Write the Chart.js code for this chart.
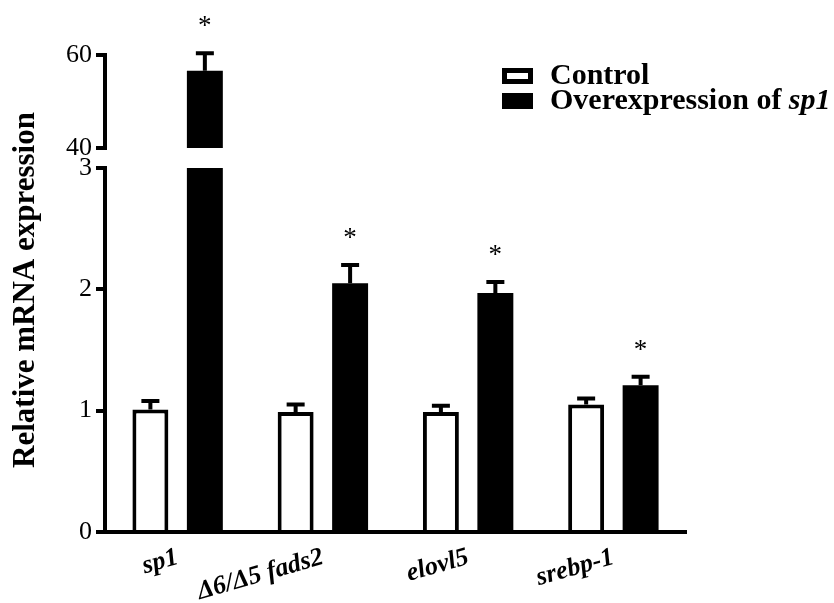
<!DOCTYPE html>
<html>
<head>
<meta charset="utf-8">
<script src="https://cdn.jsdelivr.net/npm/chart.js@4/dist/chart.umd.min.js"></script>
<style>
body { margin: 0; background: #fff; }
#wrap { position: relative; width: 834px; height: 603px; }
canvas { position: absolute; left: 0; top: 0; }
</style>
</head>
<body>
<div id="wrap">
  <canvas id="lowerChart" width="834" height="603"></canvas>
  <canvas id="upperChart" width="834" height="603"></canvas>
</div>
<script>
const genes = ['sp1', 'Δ6/Δ5 fads2', 'elovl5', 'srebp-1']
const seriesNames = ['Control', 'Overexpression of sp1']
const controlMean = [1.01, 0.99, 0.99, 1.05]
const controlErr = [0.07, 0.06, 0.05, 0.05]
const overMean = [56.6, 2.05, 1.97, 1.21]
const overErr = [3.8, 0.15, 0.09, 0.07]
const significant = [true, true, true, true]
const lowerTicks = [0, 1, 2, 3]
const upperTicks = [40, 60]
const yTitle = 'Relative mRNA expression'

const serif = 'Liberation Serif'
Chart.defaults.font.family = serif
Chart.defaults.color = '#000'
const errs = [controlErr, overErr]

// error bars + asterisks, drawn on top of the bars
const errorBars = {
  id: 'errorBars',
  afterDatasetsDraw(chart) {
    const ctx = chart.ctx
    const y = chart.scales.y
    ctx.save()
    ctx.strokeStyle = '#000'
    ctx.fillStyle = '#000'
    ctx.lineWidth = 4
    chart.data.datasets.forEach((ds, i) => {
      chart.getDatasetMeta(i).data.forEach((bar, j) => {
        const v = ds.data[j]
        if (v == null || v > y.max) return
        const top = y.getPixelForValue(v + errs[i][j])
        ctx.beginPath()
        ctx.moveTo(bar.x, y.getPixelForValue(v))
        ctx.lineTo(bar.x, top)
        ctx.moveTo(bar.x - 9, top)
        ctx.lineTo(bar.x + 9, top)
        ctx.stroke()
        if (i === 1 && significant[j]) {
          ctx.font = '27px ' + serif
          ctx.textAlign = 'center'
          ctx.textBaseline = 'middle'
          ctx.fillText('*', bar.x, top - 26)
        }
      })
    })
    ctx.restore()
  }
}

// axis title over both segments + legend
const extras = {
  id: 'extras',
  afterDraw(chart) {
    const ctx = chart.ctx
    ctx.save()
    ctx.fillStyle = '#000'
    ctx.translate(26, 290)
    ctx.rotate(-Math.PI / 2)
    ctx.font = 'bold 31px ' + serif
    ctx.textAlign = 'center'
    ctx.textBaseline = 'middle'
    ctx.fillText(yTitle, 0, 0)
    ctx.restore()

    ctx.save()
    ctx.textBaseline = 'middle'
    chart.data.datasets.forEach((ds, i) => {
      const cy = 76 + i * 25
      ctx.fillStyle = ds.backgroundColor
      ctx.fillRect(502, cy - 8, 31, 16)
      ctx.strokeStyle = '#000'
      ctx.lineWidth = 5
      ctx.strokeRect(504.5, cy - 5.5, 26, 11)
      let x = 550
      ds.label.split(' ').forEach((w, k, arr) => {
        const it = genes.includes(w)
        ctx.font = (it ? 'italic ' : '') + 'bold 30px ' + serif
        ctx.fillStyle = '#000'
        const txt = k < arr.length - 1 ? w + ' ' : w
        ctx.fillText(txt, x, cy)
        x += ctx.measureText(txt).width
      })
    })
    ctx.restore()
  }
}

function yAxis(min, max, tickVals) {
  return {
    min: min, max: max,
    afterFit: s => { s.width = 105 },
    afterBuildTicks: s => { s.ticks = tickVals.map(v => ({ value: v })) },
    grid: { drawOnChartArea: false, color: '#000', lineWidth: 4, tickLength: 9 },
    border: { color: '#000', width: 4 },
    ticks: { font: { size: 26 }, padding: 4, color: '#000' }
  }
}

const barOpts = { categoryPercentage: 0.75, barPercentage: 0.66 }

new Chart(document.getElementById('lowerChart'), {
  type: 'bar',
  data: {
    labels: genes,
    datasets: [
      { label: seriesNames[0], data: controlMean, backgroundColor: '#fff', borderColor: '#000', borderWidth: 4, clip: 0, ...barOpts },
      { label: seriesNames[1], data: overMean, backgroundColor: '#000', borderColor: '#000', borderWidth: 0, clip: 0, ...barOpts }
    ]
  },
  options: {
    responsive: false,
    animation: false,
    layout: { padding: { top: 168, right: 148, left: 0, bottom: 0 } },
    plugins: { legend: { display: false }, tooltip: { enabled: false } },
    scales: {
      x: {
        afterFit: s => { s.height = 71 },
        grid: { display: false, drawTicks: false },
        border: { color: '#000', width: 4 },
        ticks: { minRotation: 16, maxRotation: 16, padding: 10, font: { size: 26, style: 'italic', weight: 'bold' }, color: '#000' }
      },
      y: yAxis(0, 3, lowerTicks)
    }
  },
  plugins: [errorBars, extras]
})

new Chart(document.getElementById('upperChart'), {
  type: 'bar',
  data: {
    labels: genes,
    datasets: [
      { label: seriesNames[0], data: controlMean.map(v => v >= 40 ? v : null), backgroundColor: '#fff', borderColor: '#000', borderWidth: 4, clip: 0, ...barOpts },
      { label: seriesNames[1], data: overMean.map(v => v >= 40 ? v : null), backgroundColor: '#000', borderWidth: 0, clip: 0, ...barOpts }
    ]
  },
  options: {
    responsive: false,
    animation: false,
    layout: { padding: { top: 55, right: 148, left: 0, bottom: 455 } },
    plugins: { legend: { display: false }, tooltip: { enabled: false } },
    scales: {
      x: { display: false },
      y: yAxis(40, 60, upperTicks)
    }
  },
  plugins: [errorBars]
})
</script>
</body>
</html>
